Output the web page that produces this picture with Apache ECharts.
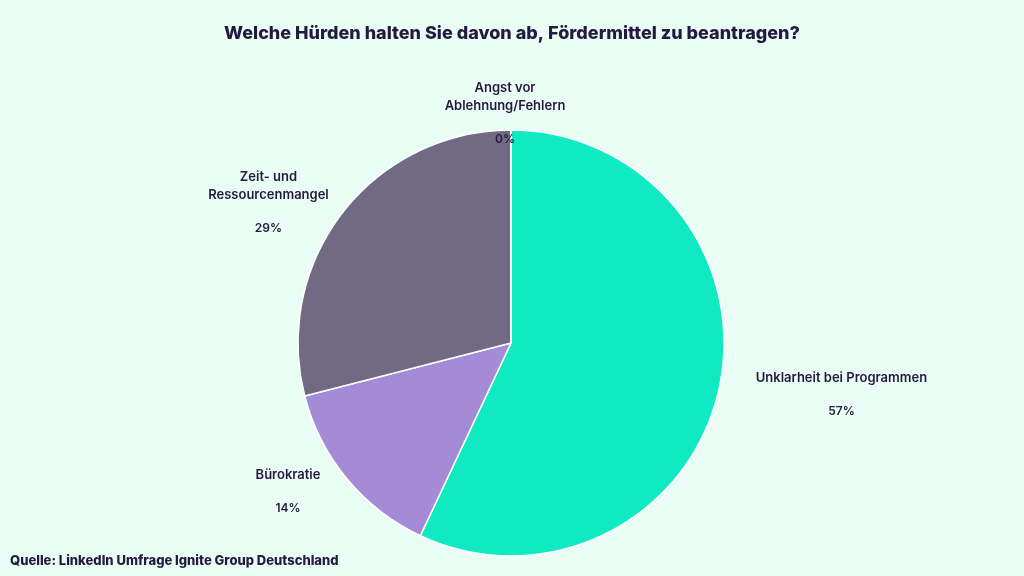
<!DOCTYPE html>
<html><head><meta charset="utf-8">
<script src="https://cdn.jsdelivr.net/npm/echarts@6/dist/echarts.min.js"></script>
<style>html,body{margin:0;padding:0;background:#e9fdf5}#c{width:1024px;height:576px}</style>
</head><body><div id="c"></div>
<script>
const categories = ['Unklarheit bei Programmen', 'Bürokratie', 'Zeit- und\nRessourcenmangel', 'Angst vor\nAblehnung/Fehlern'];
const values = [57, 14, 29, 0];
const colors = ['#0feac2', '#a58bd6', '#716a85', '#5a4e7a'];
const boxW = [200, 80, 110, 2];
const chart = echarts.init(document.getElementById('c'));
chart.setOption({
  backgroundColor: '#e9fdf5',
  title: { text: 'Welche Hürden halten Sie davon ab, Fördermittel zu beantragen?', left: 'center', top: 20,
    textStyle: { fontFamily: 'Inter', fontSize: 18, fontWeight: 800, color: '#24193f' } },
  graphic: [{ type: 'text', left: 10, top: 555, style: { text: 'Quelle: LinkedIn Umfrage Ignite Group Deutschland',
    font: '800 13px Inter', fill: '#24193f' } }],
  series: [{
    type: 'pie', center: [511, 343], radius: 213, startAngle: 90, clockwise: true,
    data: categories.map((c, i) => ({ name: c, value: values[i], itemStyle: { color: colors[i] },
      label: { rich: { a: { width: boxW[i], align: 'center', fontFamily: 'Inter', fontSize: 13, fontWeight: 600, color: '#24193f', lineHeight: 18 },
                        p: { width: boxW[i], align: 'center', fontFamily: 'Inter', fontSize: 12, fontWeight: 600, color: '#24193f', lineHeight: 30, verticalAlign: 'bottom' } } } })),
    itemStyle: { borderColor: '#ffffff', borderWidth: 1.5 },
    label: { show: true, position: 'outside',
      formatter: p => p.name.split('\n').map(s => '{a|' + s + '}').join('\n') + '\n{p|' + p.value + '%}' },
    labelLine: { show: false, length: 18, length2: 0 },
    emphasis: { disabled: true }, animation: false
  }]
});
</script></body></html>
